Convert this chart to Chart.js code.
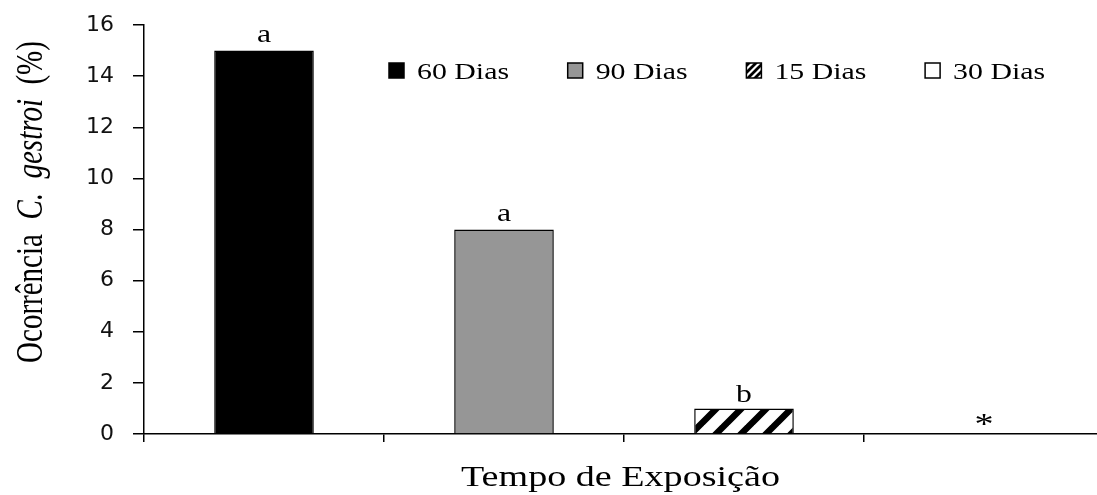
<!DOCTYPE html>
<html>
<head>
<meta charset="utf-8">
<script src="https://cdn.jsdelivr.net/npm/chart.js@4.4.1/dist/chart.umd.min.js"></script>
<style>
  html, body { margin: 0; padding: 0; background: #fff; overflow: hidden; }
  #wrap { position: relative; width: 1104px; height: 495px; }
</style>
</head>
<body>
<div id="wrap"><canvas id="c" width="1104" height="495"></canvas></div>
<script>
// Exposure periods, in the order the bars are drawn
const categories = ['60 Dias', '90 Dias', '15 Dias', '30 Dias'];
// Occurrence of C. gestroi (%) for each period
const occurrence = [15, 8, 1, 0];
// Significance letters written above each bar
const letters = ['a', 'a', 'b', '*'];
// Y axis tick values
const yTickValues = [0, 2, 4, 6, 8, 10, 12, 14, 16];

const SERIF = '"Liberation Serif", "Times New Roman", serif';
const STRETCH = 1.27; // horizontal widening of the serif lettering

const canvas = document.getElementById('c');
const ctx = canvas.getContext('2d');

// diagonal "/" stripes on white
function makeHatch(size, lw) {
  const c = document.createElement('canvas');
  c.width = c.height = size;
  const g = c.getContext('2d');
  g.fillStyle = '#fff';
  g.fillRect(0, 0, size, size);
  g.strokeStyle = '#000';
  g.lineWidth = lw;
  g.beginPath();
  for (const k of [-1, 0, 1]) {
    g.moveTo(k * size - 2, size + 2);
    g.lineTo(k * size + size + 2, -2);
  }
  g.stroke();
  return ctx.createPattern(c, 'repeat');
}
const hatchBig = makeHatch(25, 6.5);
const hatchSmall = makeHatch(7, 2.8);

const fills = ['#000000', '#969696', hatchBig, '#ffffff'];
const legendFills = ['#000000', '#969696', hatchSmall, '#ffffff'];

function stretchedText(c, text, x, y, align) {
  c.save();
  c.translate(x, y);
  c.scale(STRETCH, 1);
  c.textAlign = align;
  c.fillText(text, 0, 0);
  c.restore();
}

// letters above bars, legend row and both axis titles
const annotations = {
  id: 'annotations',
  afterDraw(chart) {
    const c = chart.ctx;
    const area = chart.chartArea;
    c.save();
    c.fillStyle = '#000';

    // letters over the bars, glyph centred 15px above the bar top
    const meta = chart.getDatasetMeta(0);
    meta.data.forEach((bar, i) => {
      const txt = letters[i];
      const size = txt === '*' ? 30 : 25;
      c.font = size + 'px ' + SERIF;
      c.textBaseline = 'alphabetic';
      const m = c.measureText(txt);
      const glyphMid = (m.actualBoundingBoxAscent - m.actualBoundingBoxDescent) / 2;
      stretchedText(c, txt, bar.x, bar.y - 15 + glyphMid, 'center');
    });

    // legend row inside the plot
    c.font = '23.5px ' + SERIF;
    c.textBaseline = 'alphabetic';
    const legX0 = 389, legStep = 178.7, boxY = 63, box = 15;
    categories.forEach((name, i) => {
      const x = legX0 + i * legStep;
      c.fillStyle = legendFills[i];
      c.fillRect(x, boxY, box, box);
      c.strokeStyle = '#000';
      c.lineWidth = 1.5;
      c.strokeRect(x, boxY, box, box);
      c.fillStyle = '#000';
      stretchedText(c, name, x + box + 13, boxY + 16, 'left');
    });

    // x axis title
    c.font = '30px ' + SERIF;
    stretchedText(c, 'Tempo de Exposição', (area.left + 1097) / 2, 486, 'center');

    // y axis title, mixed upright / italic
    const parts = [
      ['Ocorrência  ', ''],
      ['C.  gestroi', 'italic '],
      ['  (%)', '']
    ];
    const fs = 29;
    let total = 0;
    parts.forEach(p => { c.font = p[1] + fs + 'px ' + SERIF; total += c.measureText(p[0]).width; });
    c.save();
    c.translate(42, 202);
    c.scale(STRETCH * 1.05, 1);
    c.rotate(-Math.PI / 2);
    c.textAlign = 'left';
    let x = -total / 2;
    parts.forEach(p => {
      c.font = p[1] + fs + 'px ' + SERIF;
      c.fillText(p[0], x, 0);
      x += c.measureText(p[0]).width;
    });
    c.restore();

    c.restore();
  }
};

new Chart(ctx, {
  type: 'bar',
  data: {
    labels: categories,
    datasets: [{
      data: occurrence,
      backgroundColor: fills,
      borderColor: '#000',
      borderWidth: 1.5,
      barPercentage: 0.415,
      categoryPercentage: 1
    }]
  },
  options: {
    responsive: false,
    animation: false,
    events: [],
    layout: { padding: { top: 25, left: 0, right: 0, bottom: 0 } },
    plugins: { legend: { display: false }, tooltip: { enabled: false } },
    scales: {
      x: {
        type: 'category',
        offset: true,
        grid: { offset: true, drawOnChartArea: false, drawTicks: true, tickLength: 8, color: '#000', lineWidth: 1.5 },
        border: { display: true, color: '#000', width: 1.5 },
        ticks: { display: false },
        afterFit(s) { s.height = 61; s.paddingLeft = 0; s.paddingRight = 0; }
      },
      y: {
        min: 0,
        max: 16,
        afterBuildTicks(s) { s.ticks = yTickValues.map(v => ({ value: v })); },
        grid: { drawOnChartArea: false, drawTicks: true, tickLength: 11, color: '#000', lineWidth: 1.5 },
        border: { display: true, color: '#000', width: 1.5 },
        ticks: { font: { family: '"DejaVu Sans", Verdana, sans-serif', size: 22 }, color: '#111', padding: 19 },
        afterFit(s) { s.width = 144; s.paddingTop = 0; s.paddingBottom = 0; }
      }
    }
  },
  plugins: [annotations]
});
</script>
</body>
</html>
